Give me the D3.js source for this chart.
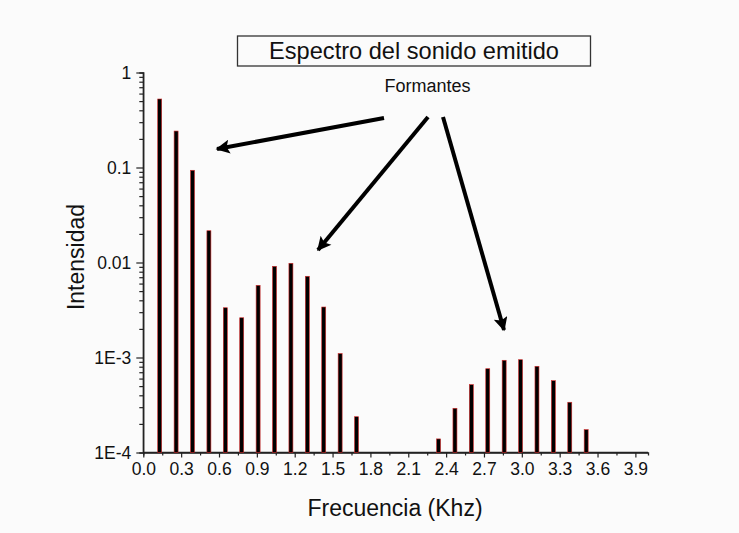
<!DOCTYPE html>
<html>
<head>
<meta charset="utf-8">
<script src="https://cdnjs.cloudflare.com/ajax/libs/d3/7.8.5/d3.min.js"></script>
<style>
  body { margin: 0; background: #fbfbfb; }
  svg text { font-family: "Liberation Sans", Arial, sans-serif; fill: #111; }
</style>
</head>
<body>
<svg id="chart"></svg>
<script>
// harmonics of the fundamental (kHz) and their intensity
const harmonic = [1, 2, 3, 4, 5, 6, 7, 8, 9, 10, 11, 12, 13, 18, 19, 20, 21, 22, 23, 24, 25, 26, 27]
const intensity = [0.526, 0.242, 0.0935, 0.0216, 0.00334, 0.00262, 0.00575, 0.00912, 0.00981, 0.00716,
                   0.0034, 0.0011, 0.000238, 0.000139, 0.000292, 0.000518, 0.000762, 0.000935,
                   0.000948, 0.000808, 0.00057, 0.000338, 0.000174]
const f0 = 0.13

const xTicks = [0, 0.3, 0.6, 0.9, 1.2, 1.5, 1.8, 2.1, 2.4, 2.7, 3.0, 3.3, 3.6, 3.9]
const yTicks = [1e-4, 1e-3, 0.01, 0.1, 1]
const yTickLabels = ["1E-4", "1E-3", "0.01", "0.1", "1"]

const title = "Espectro del sonido emitido"
const note = "Formantes"
const xTitle = "Frecuencia (Khz)"
const yTitle = "Intensidad"

//svg
const svg = d3.select("svg#chart")
              .attr("width", 739)
              .attr("height", 533)

svg.append("rect")
   .attr("width", 739)
   .attr("height", 533)
   .attr("fill", "#fbfbfb")

//scales
const x = d3.scaleLinear().domain([0, 4.0]).range([143.3, 648])
const y = d3.scaleLog().domain([1e-4, 1]).range([452.5, 72.5])

//minor ticks, y
const yMinor = []
for (let e = -4; e < 0; e++) {
    for (let k = 2; k <= 9; k++) yMinor.push(k * Math.pow(10, e))
}
svg.append("g")
   .attr("transform", "translate(143.3,0)")
   .call(d3.axisLeft(y).tickValues(yMinor).tickSize(4).tickFormat(""))

//y axis
const yAxis = svg.append("g")
   .attr("transform", "translate(143.3,0)")
   .call(d3.axisLeft(y).tickValues(yTicks).tickSize(7).tickPadding(5)
            .tickFormat((d, i) => yTickLabels[i]))

//minor ticks, x
const xMinor = d3.range(0.15, 4.0, 0.3)
svg.append("g")
   .attr("transform", "translate(0,452.5)")
   .call(d3.axisBottom(x).tickValues(xMinor).tickSize(3).tickFormat(""))

//x axis
const xAxis = svg.append("g")
   .attr("transform", "translate(0,452.5)")
   .call(d3.axisBottom(x).tickValues(xTicks).tickSize(5).tickPadding(5)
            .tickFormat(d3.format(".1f")))

svg.selectAll(".domain").attr("stroke", "#222").attr("stroke-width", 1.3)
svg.selectAll(".tick line").attr("stroke", "#222").attr("stroke-width", 1.2)
svg.selectAll(".tick text")
   .attr("font-size", 17.5)
   .attr("font-family", "Liberation Sans, Arial, sans-serif")
   .attr("fill", "#111")
yAxis.select(".domain").attr("d", "M0,72.5V452.5")
xAxis.select(".domain").attr("d", "M143.3,0H648")

//bars
svg.append("g")
   .selectAll("rect")
   .data(harmonic)
   .join("rect")
   .attr("x", d => x(d * f0) - 2)
   .attr("y", (d, i) => y(intensity[i]))
   .attr("width", 4)
   .attr("height", (d, i) => y(1e-4) - y(intensity[i]))
   .attr("fill", "#000")
   .attr("stroke", "#d42a2a")
   .attr("stroke-width", 0.6)

//title box
svg.append("rect")
   .attr("x", 237.5)
   .attr("y", 36)
   .attr("width", 353)
   .attr("height", 30)
   .attr("fill", "none")
   .attr("stroke", "#333")
   .attr("stroke-width", 1.3)

svg.append("text")
   .attr("x", 414)
   .attr("y", 59)
   .attr("text-anchor", "middle")
   .attr("font-size", 23.6)
   .text(title)

svg.append("text")
   .attr("x", 427.5)
   .attr("y", 92)
   .attr("text-anchor", "middle")
   .attr("font-size", 18)
   .text(note)

//axis titles
svg.append("text")
   .attr("x", 395)
   .attr("y", 516)
   .attr("text-anchor", "middle")
   .attr("font-size", 23)
   .text(xTitle)

svg.append("text")
   .attr("transform", "translate(84,257) rotate(-90)")
   .attr("text-anchor", "middle")
   .attr("font-size", 23)
   .text(yTitle)

//arrows
svg.append("defs").append("marker")
   .attr("id", "head")
   .attr("viewBox", "0 0 10 10")
   .attr("refX", 9)
   .attr("refY", 5)
   .attr("markerUnits", "userSpaceOnUse")
   .attr("markerWidth", 22)
   .attr("markerHeight", 14)
   .attr("orient", "auto")
   .append("path")
   .attr("d", "M0,0L10,5L0,10L2,5Z")
   .attr("fill", "#000")

const arrows = [[384, 118, 217, 149], [428, 117, 318, 250], [443, 117, 504, 330]]
arrows.forEach(a => {
    svg.append("line")
       .attr("x1", a[0]).attr("y1", a[1])
       .attr("x2", a[2]).attr("y2", a[3])
       .attr("stroke", "#000")
       .attr("stroke-width", 4)
       .attr("marker-end", "url(#head)")
})
</script>
</body>
</html>
